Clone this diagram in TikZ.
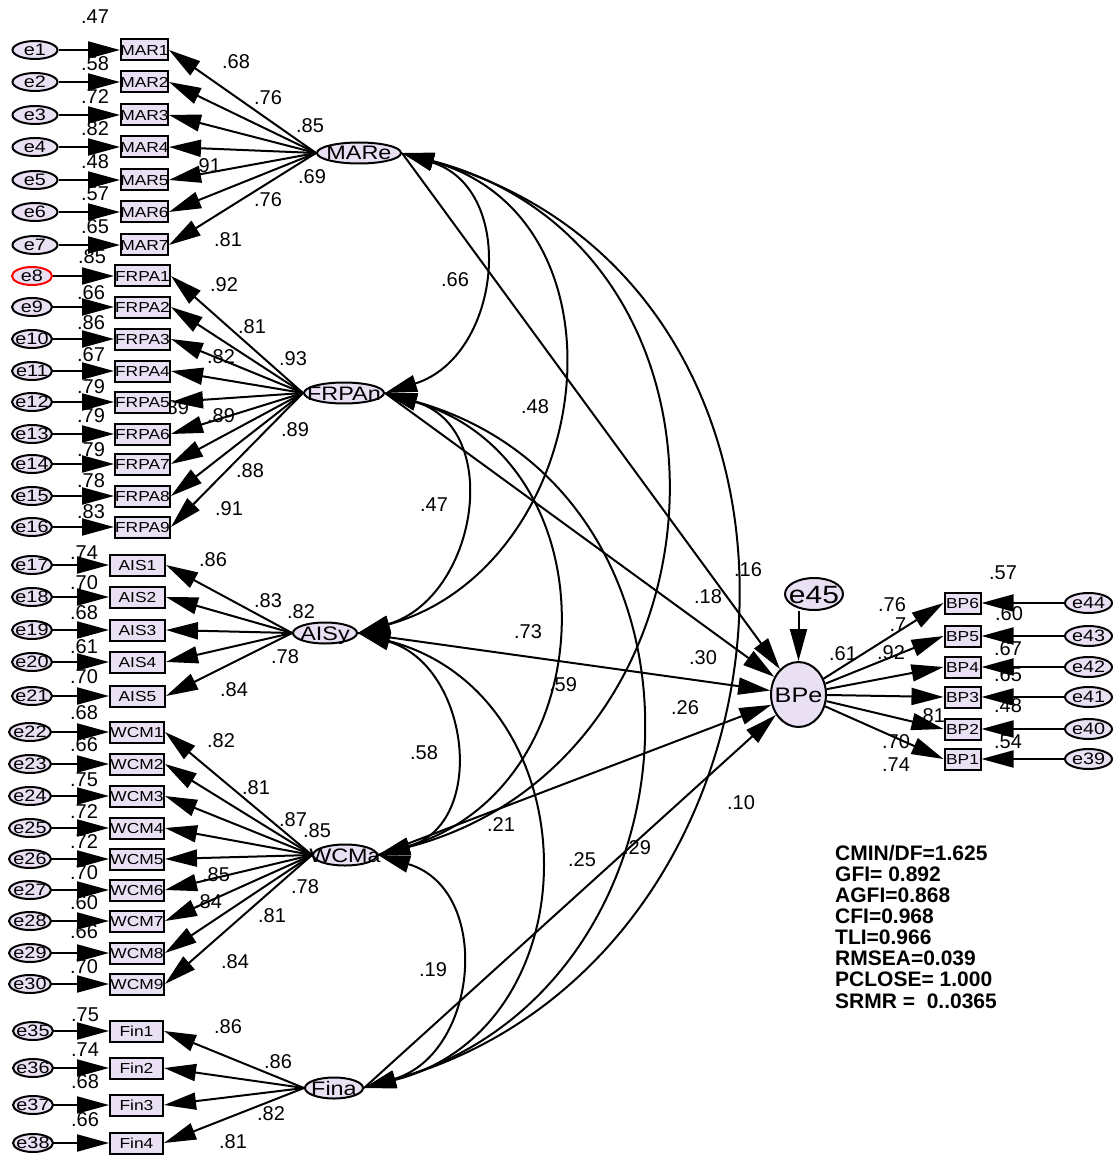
\documentclass[tikz,border=0pt]{standalone}
\usepackage{fontspec}
\setmainfont{Liberation Sans}
\newfontfamily\wf[FakeStretch=1.2]{Liberation Sans}
\usetikzlibrary{shapes.geometric,arrows.meta}
\definecolor{lav}{RGB}{234,224,244}
\newcommand\ctrtext[1]{\makebox[0pt]{#1}}
\tikzset{
  err/.style={ellipse, draw=black, line width=2pt, fill=lav, minimum width=40pt, minimum height=18pt, inner sep=0pt, text height=11.5pt, text depth=0pt, font=\wf\fontsize{16.5}{16.5}\selectfont},
  ind/.style={rectangle, draw=black, line width=2pt, fill=lav, minimum height=21pt, inner sep=0pt, text height=10.5pt, text depth=0pt, font=\wf\fontsize{14.5}{14.5}\selectfont},
  lat/.style={ellipse, draw=black, line width=2pt, fill=lav, minimum height=21pt, inner sep=0pt, text height=14pt, text depth=0pt, font=\wf\fontsize{19.5}{19.5}\selectfont},
  lab/.style={inner sep=0pt, font=\fontsize{20}{20}\selectfont},
  fitl/.style={inner sep=0pt, anchor=base west, font=\bfseries\fontsize{21}{21}\selectfont},
  arr/.style={-{Triangle[length=32pt,width=17pt]}, line width=2pt},
  cov/.style={{Triangle[length=32pt,width=17pt]}-{Triangle[length=32pt,width=17pt]}, line width=2pt},
}
\begin{document}
\begin{tikzpicture}[x=1pt,y=-1pt]
\useasboundingbox[fill=white] (0,0) rectangle (1115,1155);

% ---------- labels (drawn first, arrows go over them) ----------
\foreach \t/\x/\y [count=\n] in {
 .47/95/17,.58/95/64,.72/95/97,.82/95/129,.48/95/162,.57/95/194,.65/95/227,
 .85/92/257,.66/91/293,.86/91/323,.67/91/355,.79/91/387,.79/91/416,.79/91/450,.78/91/481,.83/91/512,
 .74/84/553,.70/84/583,.68/84/613,.61/84/647,.70/84/677,
 .68/84/713,.66/84/745,.75/84/780,.72/84/812,.72/84/842,.70/84/873,.60/84/903,.66/84/932,.70/84/967,
 .75/85/1015,.74/85/1050,.68/85/1082,.66/85/1120}
 \node[lab] (R\n) at (\x,\y) {\t};

\foreach \t/\x/\y [count=\n] in {
 .68/236/62,.76/268/98,.85/310/126,.91/207/166,.69/312/177,.76/268/200,.81/228/240,
 .92/224/285,.81/252/327,.82/221/357,.93/293/359,.89/175/408,.89/221/416,.89/295/430,.88/250/471,.91/229/509,
 .86/213/560,.83/268/601,.82/301/612,.78/285/657,.84/234/690,
 .82/221/741,.81/256/788,.87/293/820,.85/317/831,.85/216/875,.78/305/887,.84/208/902,.81/272/916,.84/235/962,
 .86/228/1027,.86/278/1062,.82/271/1114,.81/233/1142}
 \node[lab] (W\n) at (\x,\y) {\t};

\foreach \t/\x/\y [count=\n] in {
 .66/455/280,.48/535/407,.47/434/505,.73/528/632,.59/563/685,.58/424/753,.21/501/825,
 .25/582/860,.29/637/848,.16/748/570,.18/708/597,.30/703/658,.26/685/708,.10/741/803,.19/433/970}
 \node[lab] (C\n) at (\x,\y) {\t};

\foreach \t/\x/\y [count=\n] in {
 .57/1003/573,.76/892/605,.7/898/625,.61/843/654,.92/891/653,.60/1009/614,.67/1008/649,
 .65/1008/675,.48/1008/706,.81/931/716,.54/1008/742,.70/896/742,.74/896/765}
 \node[lab] (B\n) at (\x,\y) {\t};

% ---------- fit statistics ----------
\node[fitl] (f1) at (835,860) {CMIN/DF=1.625};
\node[fitl] (f2) at (835,881) {GFI= 0.892};
\node[fitl] (f3) at (835,902) {AGFI=0.868};
\node[fitl] (f4) at (835,923) {CFI=0.968};
\node[fitl] (f5) at (835,944) {TLI=0.966};
\node[fitl] (f6) at (835,965) {RMSEA=0.039};
\node[fitl] (f7) at (835,986) {PCLOSE= 1.000};
\node[fitl] (f8) at (835,1008) {SRMR = ~0..0365};

% ---------- latent variables ----------
\node[lat, minimum width=84pt] (MARe) at (359,153) {\ctrtext{MARe}};
\node[lat, minimum width=80pt] (FRPAn) at (344,393) {\ctrtext{FRPAn}};
\node[lat, minimum width=64pt] (AISy) at (325,633) {\ctrtext{AISy}};
\node[lat, minimum width=64pt] (WCMa) at (345,855) {\ctrtext{WCMa}};
\node[lat, minimum width=58pt] (Fina) at (334,1088) {\ctrtext{Fina}};
\node[lat, minimum width=55pt, minimum height=65pt, text height=15pt, font=\wf\fontsize{21}{21}\selectfont] (BPe) at (798.5,694.5) {\ctrtext{BPe}};
\node[lat, minimum width=58pt, minimum height=32pt, text height=18pt, font=\wf\fontsize{25}{25}\selectfont] (e45) at (814,594) {\ctrtext{e45}};

% ---------- indicators and errors ----------
\foreach \i/\y in {1/50,2/82,3/115,4/147,5/180,6/212,7/245}{
  \node[err, minimum width=45pt] (e\i) at (35,\y) {\ctrtext{e\i}};
  \node[ind, minimum width=47pt] (MAR\i) at (144.5,\y) {\ctrtext{MAR\i}};
}
\foreach \i/\e/\y/\c in {1/8/276/red,2/9/307/black,3/10/339/black,4/11/371/black,5/12/402/black,6/13/434/black,7/14/464/black,8/15/496/black,9/16/527/black}{
  \node[err, draw=\c] (e\e) at (32,\y) {\ctrtext{e\e}};
  \node[ind, minimum width=55pt] (FRPA\i) at (142.5,\y) {\ctrtext{FRPA\i}};
}
\foreach \i/\e/\y in {1/17/565,2/18/597,3/19/630,4/20/662,5/21/696}{
  \node[err] (e\e) at (32,\y) {\ctrtext{e\e}};
  \node[ind, minimum width=55pt] (AIS\i) at (137.5,\y) {\ctrtext{AIS\i}};
}
\foreach \i/\e/\y in {1/22/732,2/23/764,3/24/796,4/25/828,5/26/859,6/27/890,7/28/921,8/29/953,9/30/984}{
  \node[err, minimum width=42pt] (e\e) at (30,\y) {\ctrtext{e\e}};
  \node[ind, minimum width=54pt] (WCM\i) at (137,\y) {\ctrtext{WCM\i}};
}
\foreach \i/\e/\y in {1/35/1031,2/36/1068,3/37/1105,4/38/1143}{
  \node[err] (e\e) at (33,\y) {\ctrtext{e\e}};
  \node[ind, minimum width=53pt] (Fin\i) at (136.5,\y) {\ctrtext{Fin\i}};
}
\foreach \i/\e/\y in {6/44/603,5/43/636,4/42/667,3/41/697,2/40/729,1/39/759}{
  \node[err, minimum width=47pt, minimum height=20pt] (e\e) at (1088.5,\y) {\ctrtext{e\e}};
  \node[ind, minimum width=36pt] (BP\i) at (962.5,\y) {\ctrtext{BP\i}};
}

% ---------- error arrows and loadings ----------
\foreach \i in {1,...,7}{
  \draw[arr] (e\i) -- (MAR\i);
  \draw[arr] (MARe.west) -- (MAR\i.east);
}
\foreach \i/\e in {1/8,2/9,3/10,4/11,5/12,6/13,7/14,8/15,9/16}{
  \draw[arr] (e\e) -- (FRPA\i);
  \draw[arr] (FRPAn.west) -- (FRPA\i.east);
}
\foreach \i/\e in {1/17,2/18,3/19,4/20,5/21}{
  \draw[arr] (e\e) -- (AIS\i);
  \draw[arr] (AISy.west) -- (AIS\i.east);
}
\foreach \i/\e in {1/22,2/23,3/24,4/25,5/26,6/27,7/28,8/29,9/30}{
  \draw[arr] (e\e) -- (WCM\i);
  \draw[arr] (WCMa.west) -- (WCM\i.east);
}
\foreach \i/\e in {1/35,2/36,3/37,4/38}{
  \draw[arr] (e\e) -- (Fin\i);
  \draw[arr] (Fina.west) -- (Fin\i.east);
}
\foreach \i/\e in {6/44,5/43,4/42,3/41,2/40,1/39}{
  \draw[arr] (e\e) -- (BP\i);
  \draw[arr] (BPe) -- (BP\i.west);
}

% ---------- structural paths ----------
\draw[arr] (MARe.east) -- (BPe);
\draw[arr] (FRPAn.east) -- (BPe);
\draw[arr] (AISy.east) -- (BPe);
\draw[arr] (WCMa.east) -- (BPe);
\draw[arr] (Fina.east) -- (BPe);
\draw[arr] (BPe.north |- e45.south) -- (BPe.north);

% ---------- covariances ----------
\draw[cov] (MARe.east) .. controls (518.5,189.5) and (501.5,356.5) .. (FRPAn.east);
\draw[cov] (MARe.east) .. controls (640,219.2) and (595,566.8) .. (AISy.east);
\draw[cov] (MARe.east) .. controls (765,247.9) and (740,760.1) .. (WCMa.east);
\draw[cov] (MARe.east) .. controls (870,282.5) and (825,958.5) .. (Fina.east);
\draw[cov] (FRPAn.east) .. controls (505,428) and (477,598) .. (AISy.east);
\draw[cov] (FRPAn.east) .. controls (615.8,460.5) and (607.8,787.5) .. (WCMa.east);
\draw[cov] (FRPAn.east) .. controls (736,491.7) and (714,989.3) .. (Fina.east);
\draw[cov] (AISy.east) .. controls (469.2,664.5) and (489.2,823.5) .. (WCMa.east);
\draw[cov] (AISy.east) .. controls (591.8,693.7) and (597.8,1027.3) .. (Fina.east);
\draw[cov] (WCMa.east) .. controls (493,889.4) and (479,1053.6) .. (Fina.east);
\end{tikzpicture}
\end{document}
